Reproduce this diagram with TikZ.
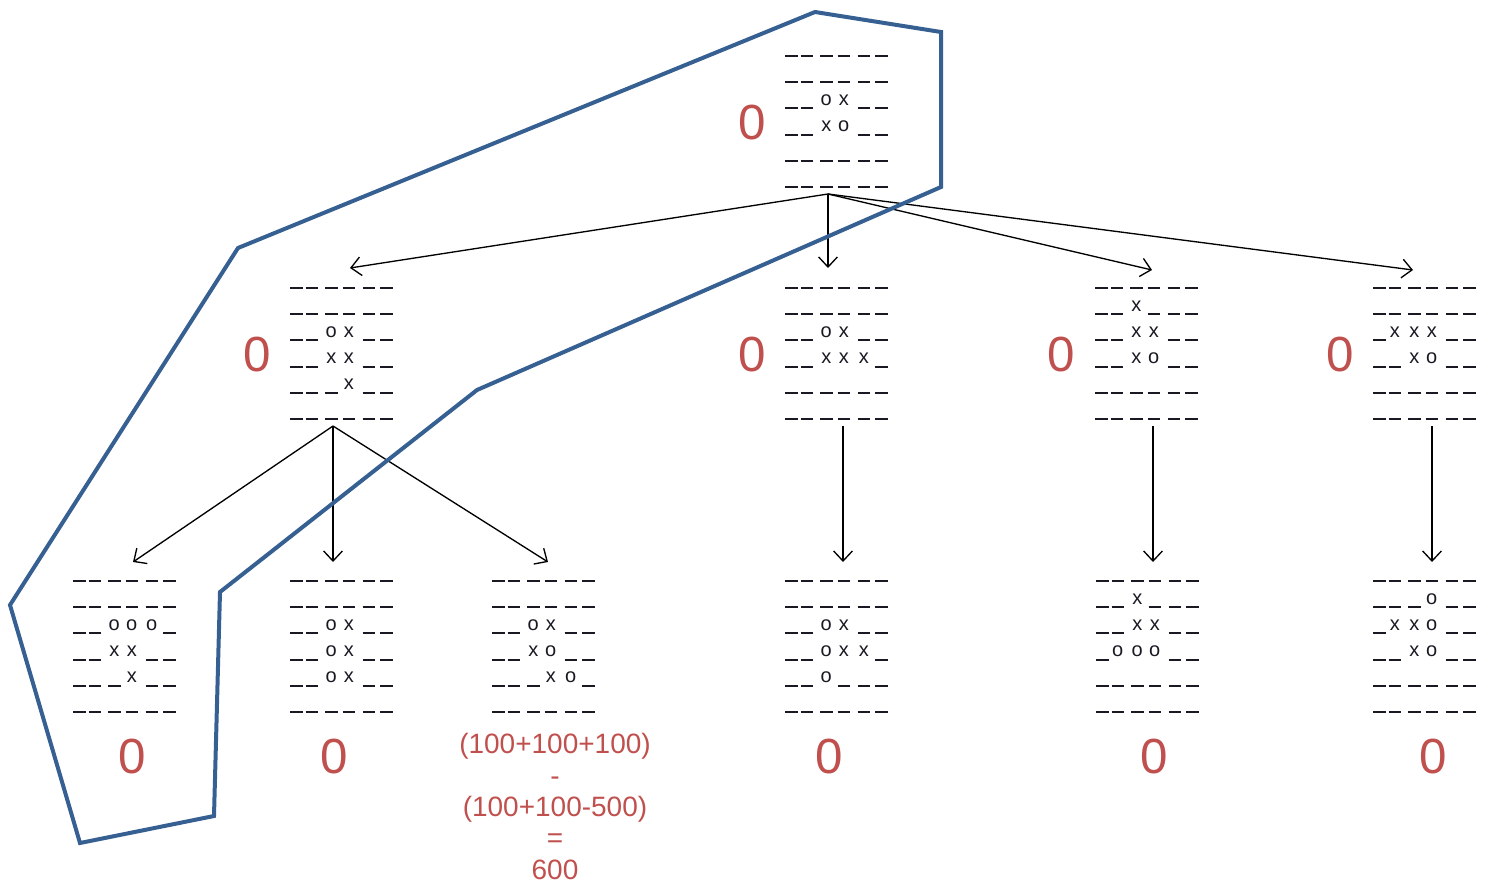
\documentclass[tikz,border=0pt]{standalone}
\usepackage{fontspec}
\setmainfont{Liberation Sans}
\usetikzlibrary{arrows.meta}
\definecolor{redlab}{RGB}{192,80,77}
\definecolor{hull}{RGB}{55,96,146}
\definecolor{ink}{RGB}{25,25,35}
\tikzset{
 dashline/.style={line width=1.5pt, draw=ink},
 letter/.style={inner sep=0pt, anchor=base, font=\fontsize{15}{15}\selectfont, text=ink},
 score/.style={inner sep=0pt, font=\fontsize{37}{37}\selectfont, text=redlab},
 calc/.style={inner sep=0pt, align=center, text=redlab, font=\fontsize{21}{23.6}\selectfont},
 move/.style={line width=1pt, -{Straight Barb[length=7.5pt,width=14pt]}},
 hullline/.style={draw=hull, line width=3pt, line join=miter}
}
\newcommand\drawboard[3]{%
 \foreach \row [count=\r from 0] in {#3} {%
  \foreach \c [count=\k from 0] in \row {%
   \pgfmathsetmacro\off{{0,15.5,35,52.5,72.5,90}[\k]}%
   \if\c-\relax
     \draw[dashline] (#1+\off,#2+\r*26.2) -- ++(12.5,0);
   \else
     \node[letter] at (#1+\off+6.25,#2+\r*26.2-3) {\c};
   \fi
  }%
 }%
}
\begin{document}
\begin{tikzpicture}[x=0.75pt,y=-0.75pt]
\useasboundingbox (0,0) rectangle (1487,888);
% boards
\drawboard{785}{56}{{-,-,-,-,-,-},{-,-,-,-,-,-},{-,-,o,x,-,-},{-,-,x,o,-,-},{-,-,-,-,-,-},{-,-,-,-,-,-}}
\drawboard{290}{288}{{-,-,-,-,-,-},{-,-,-,-,-,-},{-,-,o,x,-,-},{-,-,x,x,-,-},{-,-,-,x,-,-},{-,-,-,-,-,-}}
\drawboard{785}{288}{{-,-,-,-,-,-},{-,-,-,-,-,-},{-,-,o,x,-,-},{-,-,x,x,x,-},{-,-,-,-,-,-},{-,-,-,-,-,-}}
\drawboard{1095}{288}{{-,-,-,-,-,-},{-,-,x,-,-,-},{-,-,x,x,-,-},{-,-,x,o,-,-},{-,-,-,-,-,-},{-,-,-,-,-,-}}
\drawboard{1373}{288}{{-,-,-,-,-,-},{-,-,-,-,-,-},{-,x,x,x,-,-},{-,-,x,o,-,-},{-,-,-,-,-,-},{-,-,-,-,-,-}}
\drawboard{73}{581}{{-,-,-,-,-,-},{-,-,-,-,-,-},{-,-,o,o,o,-},{-,-,x,x,-,-},{-,-,-,x,-,-},{-,-,-,-,-,-}}
\drawboard{290}{581}{{-,-,-,-,-,-},{-,-,-,-,-,-},{-,-,o,x,-,-},{-,-,o,x,-,-},{-,-,o,x,-,-},{-,-,-,-,-,-}}
\drawboard{492}{581}{{-,-,-,-,-,-},{-,-,-,-,-,-},{-,-,o,x,-,-},{-,-,x,o,-,-},{-,-,-,x,o,-},{-,-,-,-,-,-}}
\drawboard{785}{581}{{-,-,-,-,-,-},{-,-,-,-,-,-},{-,-,o,x,-,-},{-,-,o,x,x,-},{-,-,o,-,-,-},{-,-,-,-,-,-}}
\drawboard{1096}{581}{{-,-,-,-,-,-},{-,-,x,-,-,-},{-,-,x,x,-,-},{-,o,o,o,-,-},{-,-,-,-,-,-},{-,-,-,-,-,-}}
\drawboard{1373}{581}{{-,-,-,-,-,-},{-,-,-,o,-,-},{-,x,x,o,-,-},{-,-,x,o,-,-},{-,-,-,-,-,-},{-,-,-,-,-,-}}
% scores
\node[score] (s0) at (752,123) {0};
\node[score] (sA) at (257,355) {0};
\node[score] (sB) at (752,355) {0};
\node[score] (sC) at (1061,355) {0};
\node[score] (sD) at (1340,355) {0};
\node[score] (s1) at (132,757) {0};
\node[score] (s2) at (334,757) {0};
\node[score] (s4) at (829,757) {0};
\node[score] (s5) at (1154,757) {0};
\node[score] (s6) at (1433,757) {0};
\node[calc, anchor=north] (s3) at (555,733) {(100+100+100)\\-\\(100+100-500)\\=\\600};
% connector endpoints
\coordinate (topout) at (828,194);
\coordinate (Ain) at (350,268);
\coordinate (Bin) at (828,268);
\coordinate (Cin) at (1152,270);
\coordinate (Din) at (1413,270);
\coordinate (Aout) at (333,426);
\coordinate (Bout) at (843,426);
\coordinate (Cout) at (1153,426);
\coordinate (Dout) at (1432,426);
\coordinate (L1in) at (133,562);
\coordinate (L2in) at (333,562);
\coordinate (L3in) at (548,562);
\coordinate (L4in) at (843,562);
\coordinate (L5in) at (1153,562);
\coordinate (L6in) at (1432,562);
\draw[move] (topout) -- (Ain);
\draw[move] (topout) -- (Bin);
\draw[move] (topout) -- (Cin);
\draw[move] (topout) -- (Din);
\draw[move] (Aout) -- (L1in);
\draw[move] (Aout) -- (L2in);
\draw[move] (Aout) -- (L3in);
\draw[move] (Bout) -- (L4in);
\draw[move] (Cout) -- (L5in);
\draw[move] (Dout) -- (L6in);
% hull
\draw[hullline] (815,12) -- (941,32) -- (941,187) -- (477,390) -- (220,592) -- (214,816) -- (80,843) -- (10,605) -- (238,248) -- cycle;
\end{tikzpicture}
\end{document}
